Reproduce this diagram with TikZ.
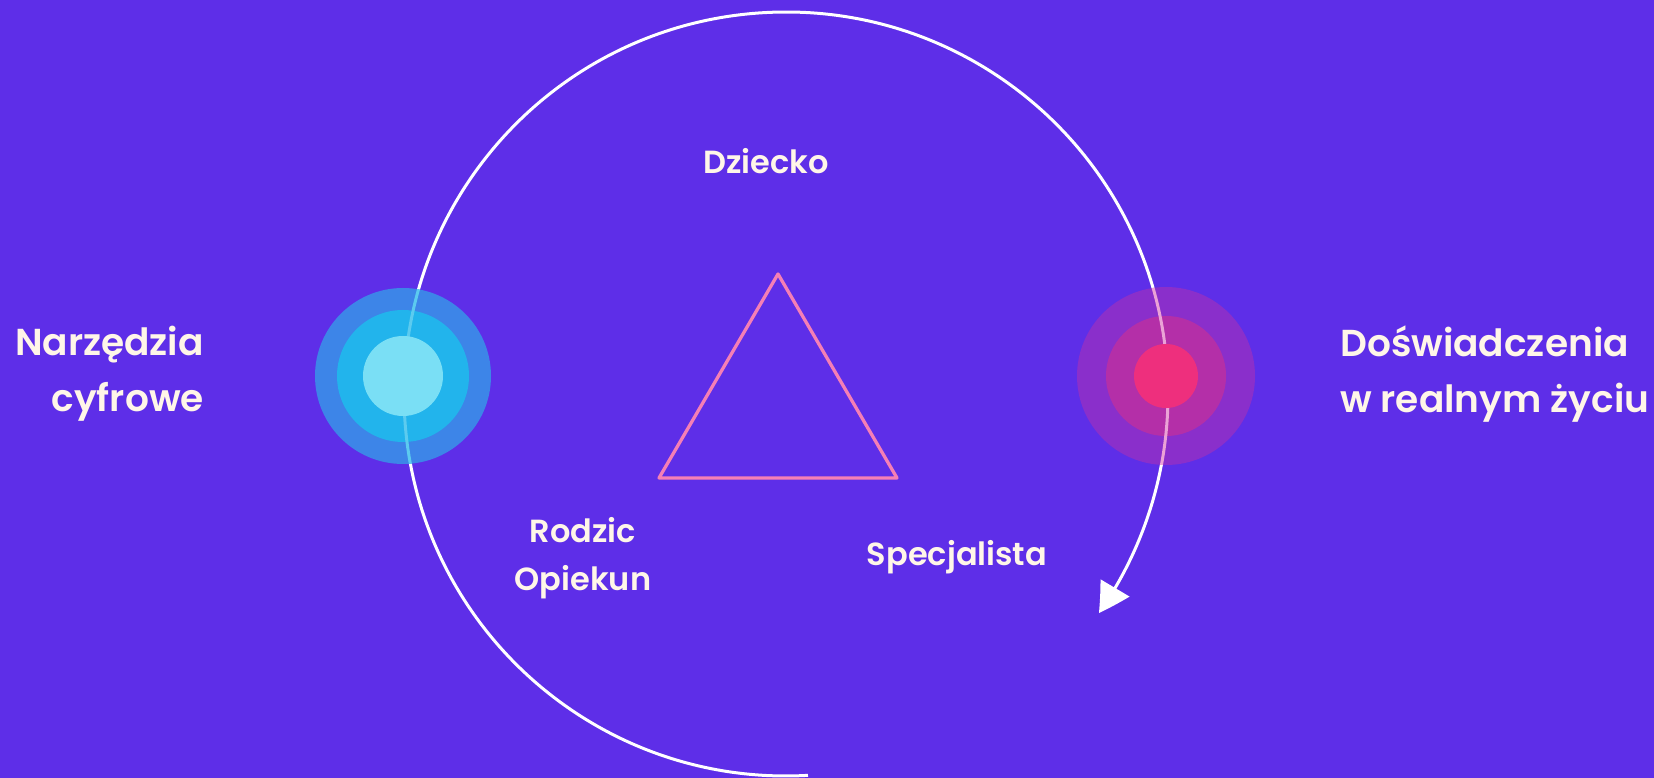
\documentclass[tikz,border=0pt]{standalone}
\usepackage{fontspec}
\setmainfont{Poppins}[UprightFont=* SemiBold, BoldFont=* Bold]
\usetikzlibrary{arrows.meta,bending}
\definecolor{bg}{HTML}{5E2EE8}
\definecolor{txt}{HTML}{FFF6E8}
\definecolor{cyA}{HTML}{3D85E8}
\definecolor{cyB}{HTML}{22B4EC}
\definecolor{cyC}{HTML}{7ADFF5}
\definecolor{cyL}{HTML}{5CCBEF}
\definecolor{pkA}{HTML}{8A2FCB}
\definecolor{pkB}{HTML}{B42FA8}
\definecolor{pkC}{HTML}{EE2F7D}
\definecolor{pkL}{HTML}{EBA2D6}
\definecolor{tri}{HTML}{F57FB5}
\tikzset{
  biglabel/.style={text=txt, font=\fontsize{37.5}{56}\selectfont, inner sep=0pt},
  smalllabel/.style={text=txt, font=\fontsize{32}{47.5}\selectfont, inner sep=0pt},
  ring/.style={line width=3pt}
}
\begin{document}
\begin{tikzpicture}[x=1pt,y=1pt]
\fill[bg] (0,0) rectangle (1654,778);
\useasboundingbox (0,0) rectangle (1654,778);
\coordinate (c) at (786,384);
\coordinate (cy) at (403,402);
\coordinate (pk) at (1166,402);
% big cycle arrow
\draw[white, ring, -{Triangle[length=30pt,width=33pt,bend]}]
  ([shift={(-86.7:382)}]c) arc[start angle=-86.7, end angle=-395, radius=382];
% cyan target
\fill[cyA] (cy) circle (88);
\fill[cyB] (cy) circle (66);
\begin{scope}
  \clip (cy) circle (88);
  \draw[cyL, ring] (c) circle (382);
\end{scope}
\fill[cyC] (cy) circle (40);
% pink target
\fill[pkA] (pk) circle (89);
\fill[pkB] (pk) circle (60);
\begin{scope}
  \clip (pk) circle (89);
  \draw[pkL, ring] (c) circle (382);
\end{scope}
\fill[pkC] (pk) circle (32);
% triangle
\coordinate (t1) at (778,504);
\coordinate (t2) at (659,300);
\coordinate (t3) at (897,300);
\draw[tri, line width=3.3pt, line join=round] (t1) -- (t2) -- (t3) -- cycle;
% labels
\node[biglabel, align=right, anchor=east] (narz) at (204,404) {Narzędzia\\cyfrowe};
\node[biglabel, align=left, anchor=west] (dosw) at (1340,404) {Doświadczenia\\w realnym życiu};
\node[smalllabel] (dz) at (766,617) {Dziecko};
\node[smalllabel, align=center] (rodz) at (583,220) {Rodzic\\Opiekun};
\node[smalllabel] (spec) at (957,221) {Specjalista};
\end{tikzpicture}
\end{document}
